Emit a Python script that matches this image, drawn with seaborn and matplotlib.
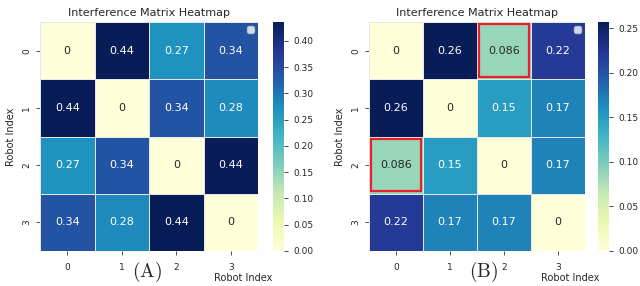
import numpy as np
import pandas as pd
import matplotlib
matplotlib.use("Agg")
import matplotlib.pyplot as plt
from matplotlib.patches import Rectangle
import seaborn as sns

robots = [0, 1, 2, 3]
matrix_a = [[0.0, 0.436, 0.27, 0.34],
            [0.436, 0.0, 0.34, 0.28],
            [0.27, 0.34, 0.0, 0.436],
            [0.34, 0.28, 0.436, 0.0]]
matrix_b = [[0.0, 0.257, 0.086, 0.22],
            [0.257, 0.0, 0.15, 0.17],
            [0.086, 0.15, 0.0, 0.17],
            [0.22, 0.17, 0.17, 0.0]]
highlight_b = [(0, 2), (2, 0)]
panel_labels = ["(A)", "(B)"]
title = "Interference Matrix Heatmap"

sns.set_style("white")
plt.rcParams['font.family'] = ['DejaVu Sans']
plt.rcParams['mathtext.fontset'] = 'cm'

fig = plt.figure(figsize=(6.4, 2.86), dpi=100)
W, H = 640, 286
def box(x0, y0, x1, y1):
    return [x0 / W, 1 - y1 / H, (x1 - x0) / W, (y1 - y0) / H]

panels = [
    (matrix_a, box(40, 22, 258, 251), box(273, 22, 284, 251), [], 147),
    (matrix_b, box(369, 22, 585, 251), box(598, 22, 609, 251), highlight_b, 484),
]

for i, (mat, axpos, cbpos, hl, lx) in enumerate(panels):
    ax = fig.add_axes(axpos)
    cax = fig.add_axes(cbpos)
    df = pd.DataFrame(mat, index=robots, columns=robots)
    sns.heatmap(df, ax=ax, cbar_ax=cax, cmap="YlGnBu", annot=True,
                linewidths=0.6, linecolor="#e6e6e6",
                annot_kws={"fontsize": 8})
    ax.set_title(title, fontsize=8, pad=4)
    ax.set_ylabel("Robot Index", fontsize=7)
    ax.set_xlabel("Robot Index", fontsize=7)
    ax.xaxis.set_label_coords(0.93, -0.095)
    ax.tick_params(axis='both', labelsize=6.5, length=3, width=0.6, color='#333333')
    ax.tick_params(axis='x', pad=6)
    ax.tick_params(axis='y', left=True)
    ax.tick_params(axis='x', bottom=True)
    cax.tick_params(labelsize=6.5, length=3, width=0.6)
    for (r, c) in hl:
        ax.add_patch(Rectangle((c + 0.04, r + 0.04), 0.92, 0.92, fill=False,
                               edgecolor="#e8202a", linewidth=1.6, zorder=5))
    leg = ax.legend(loc="upper right", handles=[], fontsize=6)
    fig.text(lx / W, 1 - 272 / H, r"$\mathrm{" + panel_labels[i] + "}$",
             ha="center", va="center", fontsize=14)

fig.savefig("out.png", dpi=100)
